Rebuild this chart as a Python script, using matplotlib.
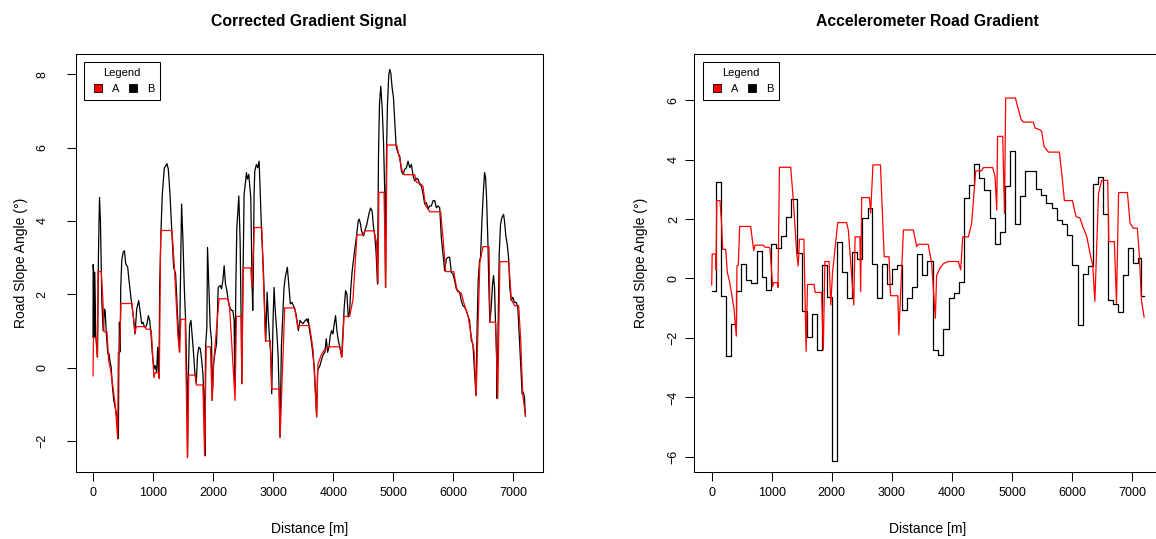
import numpy as np
import matplotlib
matplotlib.use("Agg")
import matplotlib.pyplot as plt
from matplotlib.lines import Line2D

plt.rcParams["font.family"] = ["Liberation Sans", "DejaVu Sans"]

# series A (red) - same in both panels
a_dist = [0, 8, 66, 72, 85, 138, 166, 183, 233, 260, 294, 330, 370, 410, 421, 443, 466, 649, 699, 721,
          860, 888, 954, 971, 1015, 1032, 1099, 1104, 1128, 1315, 1359, 1415, 1440, 1462, 1535, 1572,
          1595, 1705, 1722, 1830, 1858, 1885, 1955, 1983, 2012, 2099, 2245, 2275, 2366, 2388, 2468,
          2480, 2498, 2626, 2647, 2685, 2810, 2872, 2953, 2978, 3100, 3116, 3192, 3358, 3413, 3441,
          3605, 3663, 3724, 3745, 3802, 3858, 3941, 4107, 4146, 4180, 4274, 4329, 4395, 4496, 4524,
          4679, 4718, 4746, 4760, 4846, 4875, 4895, 5057, 5090, 5151, 5190, 5356, 5384, 5467, 5495,
          5534, 5606, 5789, 5828, 5873, 6006, 6034, 6067, 6133, 6178, 6245, 6311, 6345, 6380, 6441,
          6494, 6594, 6612, 6705, 6740, 6775, 6922, 6966, 7022, 7088, 7122, 7155, 7200]
a_slope = [-0.22, 0.82, 0.82, 0.29, 2.62, 2.62, 1.8, 0.98, 0.98, 0.2, -0.07, -0.5, -1.0, -1.94, 0.42,
           0.45, 1.75, 1.75, 0.94, 1.12, 1.12, 1.05, 1.05, 1.0, -0.27, -0.14, -0.14, -0.30, 3.74, 3.74,
           2.64, 0.85, 0.42, 1.32, 1.32, -2.45, -0.2, -0.2, -0.47, -0.47, -2.4, 0.57, 0.57, -0.89, 0.2,
           1.88, 1.88, 1.63, -0.89, 1.4, 1.4, -0.44, 2.72, 2.72, 2.2, 3.82, 3.82, 0.73, 0.73, -0.58,
           -0.58, -1.9, 1.63, 1.63, 1.07, 1.15, 1.15, 0.51, -1.34, 0.1, 0.35, 0.5, 0.57, 0.57, 0.29,
           1.4, 1.4, 1.86, 3.62, 3.62, 3.73, 3.73, 3.43, 2.3, 4.78, 4.78, 2.19, 6.07, 6.07, 5.81, 5.35,
           5.26, 5.26, 5.06, 5.0, 4.94, 4.44, 4.25, 4.25, 3.54, 2.62, 2.62, 2.36, 2.08, 2.03, 1.75,
           1.41, 0.74, 0.45, -0.77, 2.87, 3.3, 3.3, 1.24, 1.24, -0.84, 2.89, 2.89, 1.86, 1.69, 1.69,
           0.74, -0.72, -1.3]

# series B, corrected gradient (black, left panel)
b_dist = [0, 3, 14, 25, 30, 47, 75, 91, 108, 124, 147, 169, 191, 202, 219, 246, 268, 280, 302, 324,
          346, 368, 390, 412, 423, 429, 440, 451, 462, 479, 501, 523, 545, 578, 600, 634, 673, 700,
          728, 761, 783, 811, 833, 855, 877, 900, 922, 944, 966, 988, 1016, 1033, 1060, 1077, 1088,
          1099, 1110, 1132, 1154, 1188, 1210, 1232, 1254, 1282, 1309, 1343, 1376, 1409, 1442, 1453,
          1475, 1498, 1520, 1542, 1564, 1575, 1586, 1608, 1631, 1653, 1675, 1697, 1719, 1741, 1763,
          1786, 1808, 1830, 1852, 1863, 1874, 1896, 1907, 1930, 1952, 1974, 1985, 2007, 2029, 2057,
          2085, 2118, 2140, 2162, 2184, 2206, 2229, 2251, 2278, 2306, 2328, 2350, 2361, 2378, 2395,
          2428, 2450, 2467, 2478, 2500, 2516, 2539, 2555, 2572, 2594, 2627, 2649, 2660, 2671, 2682,
          2694, 2721, 2743, 2766, 2782, 2804, 2838, 2876, 2899, 2921, 2943, 2959, 2976, 2998, 3015,
          3031, 3059, 3081, 3098, 3114, 3137, 3181, 3203, 3236, 3264, 3286, 3314, 3347, 3380, 3419,
          3447, 3469, 3497, 3530, 3558, 3574, 3585, 3596, 3641, 3685, 3724, 3740, 3779, 3818, 3840,
          3862, 3884, 3907, 3929, 3951, 3973, 3995, 4017, 4039, 4062, 4084, 4111, 4139, 4161, 4183,
          4206, 4228, 4250, 4272, 4294, 4316, 4349, 4388, 4416, 4433, 4455, 4471, 4504, 4527, 4560,
          4593, 4621, 4648, 4671, 4693, 4715, 4737, 4754, 4770, 4792, 4815, 4837, 4859, 4870, 4887,
          4903, 4925, 4942, 4959, 4981, 5003, 5025, 5047, 5069, 5091, 5108, 5136, 5163, 5191, 5219,
          5246, 5274, 5302, 5330, 5357, 5385, 5413, 5440, 5468, 5496, 5523, 5551, 5579, 5606, 5634,
          5662, 5689, 5717, 5745, 5773, 5800, 5828, 5856, 5883, 5911, 5939, 5966, 5994, 6022, 6049,
          6077, 6105, 6132, 6160, 6188, 6215, 6243, 6271, 6299, 6326, 6354, 6376, 6398, 6414, 6437,
          6453, 6476, 6498, 6520, 6537, 6553, 6575, 6592, 6608, 6631, 6653, 6669, 6686, 6703, 6719,
          6730, 6747, 6764, 6786, 6808, 6836, 6852, 6874, 6897, 6919, 6941, 6963, 6991, 7018, 7046,
          7074, 7101, 7129, 7146, 7162, 7184, 7200]
b_slope = [0.83, 2.81, 2.55, 0.83, 2.60, 0.83, 0.29, 3.10, 4.64, 4.00, 1.83, 1.01, 1.60, 1.56, 1.01,
           0.38, 0.38, 0.20, 0.02, -0.53, -0.89, -1.07, -1.25, -1.43, -1.93, -0.16, 1.24, 0.43, 2.19,
           2.92, 3.14, 3.19, 2.83, 2.74, 2.37, 1.88, 1.38, 0.92, 1.60, 1.83, 1.56, 1.20, 1.24, 1.12,
           1.10, 1.20, 1.42, 1.29, 0.92, 0.38, -0.03, 0.06, -0.12, 0.56, 0.02, -0.25, 2.19, 3.73,
           4.73, 5.45, 5.50, 5.56, 5.41, 4.73, 3.82, 2.74, 2.55, 1.38, 0.43, 2.01, 4.46, 3.46, 2.19,
           1.29, -0.53, -2.43, -0.34, 1.15, 1.29, 0.83, 0.38, -0.16, -0.43, 0.34, 0.56, 0.52, 0.24,
           -0.16, -0.98, -2.40, 0.56, 1.10, 3.28, 2.19, 1.10, 0.74, -0.89, 0.11, 0.38, 0.65, 2.19,
           2.24, 2.15, 2.37, 2.78, 2.28, 2.10, 1.83, 1.65, 1.56, 1.56, 1.29, -0.53, 2.19, 3.82, 4.68,
           3.46, 1.29, -0.43, 2.74, 4.73, 5.05, 5.32, 5.14, 5.27, 4.64, 2.28, 1.56, 2.64, 4.73, 5.36,
           5.54, 5.45, 5.63, 4.91, 3.82, 2.64, 0.72, 2.06, 1.29, 0.72, 0.38, -0.71, 1.29, 2.19, 1.65,
           1.01, 0.38, -0.57, -1.90, 0.56, 2.19, 2.48, 2.74, 2.19, 1.74, 1.78, 1.65, 1.47, 1.01, 1.29,
           1.24, 1.20, 1.28, 1.33, 1.24, 1.33, 1.13, 0.65, 0.02, -1.34, -0.07, 0.06, 0.29, 0.38, 0.42,
           0.79, 0.42, 0.56, 0.88, 1.01, 0.92, 1.19, 1.42, 1.01, 0.74, 0.56, 0.29, 0.92, 1.65, 2.10,
           2.01, 1.38, 1.51, 2.19, 2.64, 3.10, 3.59, 4.00, 4.05, 3.91, 3.73, 3.59, 3.73, 3.91, 4.18,
           4.35, 4.27, 3.82, 3.59, 3.10, 2.28, 5.81, 7.17, 7.67, 7.08, 6.18, 4.73, 2.19, 5.81, 7.17,
           7.99, 8.13, 8.03, 7.63, 7.36, 6.72, 6.04, 5.90, 5.81, 5.77, 5.36, 5.27, 5.41, 5.45, 5.63,
           5.45, 5.54, 5.23, 5.09, 5.16, 5.14, 5.00, 4.95, 4.73, 4.46, 4.50, 4.32, 4.41, 4.41, 4.55,
           4.56, 4.36, 4.41, 4.36, 3.55, 3.10, 2.64, 2.96, 3.01, 3.01, 2.60, 2.55, 2.37, 2.15, 2.10,
           2.06, 1.83, 1.69, 1.65, 1.56, 1.42, 1.28, 0.74, 0.65, -0.16, -0.75, 1.28, 2.37, 2.92, 3.01,
           4.00, 4.73, 5.32, 5.18, 4.64, 3.46, 2.19, 1.24, 1.65, 2.28, 2.51, 2.19, 1.19, 0.38, -0.84,
           1.28, 3.10, 3.91, 4.09, 4.18, 4.00, 3.59, 3.37, 3.01, 2.19, 1.83, 1.92, 1.78, 1.78, 1.65,
           0.74, -0.16, -0.71, -0.66, -0.80, -1.32]

# series B, accelerometer gradient (black steps, right panel)
acc_dist = [0, 77, 149, 233, 321, 399, 482, 577, 655, 749, 832, 910, 993, 1071, 1160, 1243, 1326,
            1415, 1498, 1581, 1665, 1753, 1831, 1920, 2003, 2087, 2170, 2259, 2342, 2425, 2509, 2597,
            2664, 2758, 2841, 2925, 2997, 3091, 3175, 3252, 3341, 3424, 3508, 3591, 3680, 3774, 3858,
            3957, 4041, 4124, 4207, 4291, 4374, 4457, 4540, 4635, 4724, 4807, 4890, 4968, 5051, 5134,
            5223, 5395, 5478, 5567, 5662, 5745, 5828, 5917, 6006, 6095, 6178, 6267, 6345, 6433, 6511,
            6594, 6678, 6761, 6844, 6927, 7011, 7094, 7150, 7200]
acc_slope = [-0.42, 3.23, -0.59, -2.61, -1.54, -0.42, 0.48, -0.05, -0.14, 0.94, 0.04, -0.39, 1.16,
             1.02, 1.44, 2.08, 2.66, 0.87, -1.08, -1.98, -1.20, -2.41, 0.45, -0.63, -6.14, 1.21, 0.23,
             -0.67, 0.90, 0.65, 2.05, 2.36, 0.48, -0.67, 0.48, -0.20, 0.31, 0.45, -1.06, -0.67, -0.30,
             0.82, 0.12, 0.60, -2.41, -2.58, -1.71, -0.67, -0.48, -0.11, 2.69, 3.13, 3.84, 3.37, 2.98,
             2.03, 1.15, 1.55, 3.11, 4.30, 1.82, 2.79, 3.62, 3.01, 2.81, 2.53, 2.38, 1.95, 1.83, 1.45,
             0.46, -1.56, 0.15, 0.43, 3.18, 3.41, 2.17, -0.72, -0.86, -1.12, 0.10, 1.02, 0.53, 0.68,
             -0.6, -0.6]

x_ticks = [0, 1000, 2000, 3000, 4000, 5000, 6000, 7000]

W, H = 1156, 539
fig = plt.figure(figsize=(W / 100, H / 100), dpi=100)
ax1 = fig.add_axes([75.7 / W, 1 - 472.3 / H, 467 / W, 418.3 / H])
ax2 = fig.add_axes([694.4 / W, 1 - 472.3 / H, 467 / W, 418.3 / H])


def style(ax, title, yticks, ylim, ypad, lpad):
    ax.set_xlim(-288, 7488)
    ax.set_ylim(*ylim)
    ax.set_xticks(x_ticks)
    ax.set_yticks(yticks)
    ax.tick_params(direction="out", length=6.5, width=0.75, labelsize=9, pad=4)
    ax.tick_params(axis="y", labelrotation=90, pad=ypad)
    for t in ax.get_yticklabels():
        t.set_verticalalignment("center")
    for s in ax.spines.values():
        s.set_linewidth(0.75)
    ax.set_title(title, fontsize=11.3, fontweight="bold", pad=20)
    ax.set_xlabel("Distance [m]", fontsize=10, labelpad=17)
    ax.set_ylabel("Road Slope Angle (°)", fontsize=10, labelpad=lpad)
    handles = [Line2D([], [], ls="none", marker="s", ms=5.5, mfc=c, mec="black", mew=0.6)
               for c in ("red", "black")]
    leg = ax.legend(handles, ["A", "B"], title="Legend", ncol=2, loc="upper left",
                    fontsize=8, title_fontsize=8, frameon=True, fancybox=False,
                    edgecolor="black", framealpha=1, borderaxespad=0.75,
                    handlelength=1.5, handletextpad=0.5, columnspacing=0.5,
                    borderpad=0.5, labelspacing=0.55)
    leg.get_frame().set_linewidth(0.75)


ax1.plot(b_dist, b_slope, color="black", lw=0.9)
ax1.plot(a_dist, a_slope, color="red", lw=0.9)
style(ax1, "Corrected Gradient Signal", [-2, 0, 2, 4, 6, 8], (-2.85, 8.55), 13, 6)

ax2.plot(acc_dist, acc_slope, color="black", lw=0.9, drawstyle="steps-post")
ax2.plot(a_dist, a_slope, color="red", lw=0.9)
style(ax2, "Accelerometer Road Gradient", [-6, -4, -2, 0, 2, 4, 6], (-6.52, 7.55), 4, 14)
ax2.spines["right"].set_visible(False)

fig.savefig("out.png", dpi=100)
